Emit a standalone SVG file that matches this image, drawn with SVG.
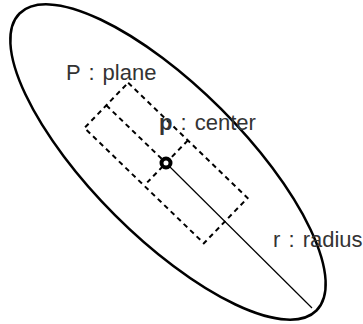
<svg xmlns="http://www.w3.org/2000/svg" width="363" height="324" viewBox="0 0 363 324">
<style>
.lbl{font-family:"Liberation Sans",Arial,sans-serif;font-size:22px;fill:#333;word-spacing:2px}
.dash{fill:none;stroke:#000;stroke-width:2;stroke-dasharray:5,4}
</style>
<rect width="363" height="324" fill="#fff"/>
<g id="sphere">
<ellipse cx="168" cy="162" rx="210" ry="75" transform="rotate(45 168 162)" fill="none" stroke="#000" stroke-width="2.5"/>
</g>
<g id="plane">
<g transform="translate(166 163) rotate(44)">
<rect class="dash" x="-83" y="-31.5" width="166" height="63"/>
<line class="dash" x1="-83" y1="0" x2="0" y2="0"/>
<line class="dash" x1="0" y1="-31.5" x2="0" y2="27"/>
</g>
</g>
<g id="connectors">
<line x1="166" y1="163" x2="312" y2="308" stroke="#000" stroke-width="1.2"/>
</g>
<g id="center">
<circle cx="166" cy="163" r="4.5" fill="#fff" stroke="#000" stroke-width="4"/>
</g>
<g id="labels">
<text class="lbl" x="66" y="80">P : plane</text>
<text class="lbl" x="159" y="130"><tspan font-weight="bold">p</tspan> : center</text>
<text class="lbl" x="273" y="247">r : radius</text>
</g>
</svg>
